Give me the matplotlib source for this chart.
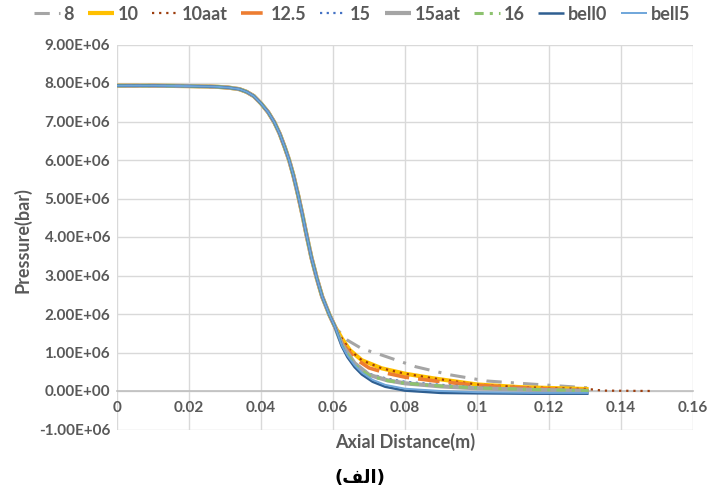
import matplotlib
matplotlib.use("Agg")
import matplotlib.pyplot as plt
import numpy as np

# Shared upstream profile (m, 1e6 Pa)
x_up = [0, 0.01, 0.02, 0.025, 0.028, 0.031, 0.034, 0.036, 0.038, 0.04, 0.042, 0.0437, 0.0452,
        0.0466, 0.0478, 0.049, 0.0504, 0.0515, 0.0525, 0.054, 0.0555, 0.057, 0.059, 0.0605]
p_up = [7.93, 7.93, 7.92, 7.91, 7.90, 7.88, 7.84, 7.77, 7.66, 7.47, 7.24, 6.98, 6.68,
        6.33, 6.00, 5.60, 5.05, 4.58, 4.12, 3.47, 2.93, 2.45, 1.98, 1.68]

# Per-series downstream tails
x_8 = [0.063, 0.064, 0.068, 0.073, 0.083, 0.0925, 0.1027, 0.112, 0.1295, 0.131]
p_8 = [1.40, 1.32, 1.10, 0.95, 0.63, 0.42, 0.26, 0.20, 0.09, 0.08]

x_10 = [0.0625, 0.0647, 0.068, 0.0735, 0.08, 0.0878, 0.1, 0.112, 0.131]
p_10 = [1.36, 1.06, 0.80, 0.59, 0.45, 0.33, 0.17, 0.10, 0.05]

x_10aat = [0.0625, 0.0647, 0.068, 0.0735, 0.08, 0.0878, 0.1, 0.112, 0.131, 0.135, 0.149]
p_10aat = [1.36, 1.06, 0.80, 0.59, 0.45, 0.33, 0.17, 0.10, 0.05, 0.01, 0.00]

x_125 = [0.0625, 0.066, 0.07, 0.075, 0.08, 0.09, 0.1, 0.115, 0.131]
p_125 = [1.25, 0.85, 0.60, 0.46, 0.36, 0.24, 0.15, 0.07, 0.01]

x_15 = [0.0625, 0.066, 0.07, 0.075, 0.08, 0.09, 0.1, 0.115, 0.131]
p_15 = [1.20, 0.70, 0.45, 0.32, 0.24, 0.16, 0.10, 0.04, 0.00]

x_15aat = [0.0625, 0.066, 0.07, 0.075, 0.08, 0.09, 0.1, 0.115, 0.131]
p_15aat = [1.20, 0.72, 0.42, 0.28, 0.20, 0.12, 0.07, 0.03, 0.00]

x_16 = [0.0625, 0.066, 0.07, 0.075, 0.08, 0.09, 0.1, 0.115, 0.131]
p_16 = [1.18, 0.68, 0.40, 0.27, 0.20, 0.13, 0.08, 0.04, 0.01]

x_bell0 = [0.0625, 0.064, 0.066, 0.068, 0.071, 0.0745, 0.08, 0.09, 0.1, 0.115, 0.131]
p_bell0 = [1.15, 0.88, 0.62, 0.43, 0.24, 0.11, 0.01, -0.05, -0.06, -0.07, -0.07]

x_bell5 = [0.0625, 0.064, 0.066, 0.068, 0.071, 0.0745, 0.08, 0.09, 0.1, 0.115, 0.131]
p_bell5 = [1.17, 0.92, 0.67, 0.48, 0.29, 0.16, 0.06, 0.00, -0.03, -0.05, -0.05]

labels = ["8", "10", "10aat", "12.5", "15", "15aat", "16", "bell0", "bell5"]
yticks = [-1e6, 0, 1e6, 2e6, 3e6, 4e6, 5e6, 6e6, 7e6, 8e6, 9e6]
yticklabels = ["-1.00E+06", "0.00E+00", "1.00E+06", "2.00E+06", "3.00E+06", "4.00E+06",
               "5.00E+06", "6.00E+06", "7.00E+06", "8.00E+06", "9.00E+06"]
xticks = [0, 0.02, 0.04, 0.06, 0.08, 0.1, 0.12, 0.14, 0.16]
xticklabels = ["0", "0.02", "0.04", "0.06", "0.08", "0.1", "0.12", "0.14", "0.16"]

series = [
    (x_8, p_8, dict(color="#A5A5A5", lw=2.2, dashes=(5, 3, 1, 3))),
    (x_10, p_10, dict(color="#FFC000", lw=3.0)),
    (x_10aat, p_10aat, dict(color="#9C3C0C", lw=1.6, dashes=(1, 2.2))),
    (x_125, p_125, dict(color="#ED7D31", lw=2.6, dashes=(6, 2.5))),
    (x_15, p_15, dict(color="#4472C4", lw=1.6, dashes=(1, 2))),
    (x_15aat, p_15aat, dict(color="#A5A5A5", lw=3.0)),
    (x_16, p_16, dict(color="#8DC26F", lw=2.2, dashes=(3, 2, 1, 2))),
    (x_bell0, p_bell0, dict(color="#2F5F91", lw=1.8)),
    (x_bell5, p_bell5, dict(color="#6FA6DA", lw=1.4)),
]

plt.rcParams['font.family'] = ['Lato', 'DejaVu Sans']
fig = plt.figure(figsize=(7.1, 4.97), dpi=100)
ax = fig.add_axes([117/710, 1-429.5/497, 576/710, 385/497])

tc = "#595959"
handles = []
for (xs, ps, st), lab in zip(series, labels):
    xa = np.array(x_up + xs)
    pa = np.array(p_up + ps) * 1e6
    ln, = ax.plot(xa, pa, label=lab, solid_capstyle="butt", solid_joinstyle="round", **st)
    handles.append(ln)

ax.set_xlim(0, 0.16)
ax.set_ylim(-1e6, 9e6)
ax.set_yticks(yticks)
ax.set_yticklabels(yticklabels)
ax.set_xticks(xticks)
ax.set_xticklabels(xticklabels)
ax.grid(True, color="#D9D9D9", lw=1.0)
ax.set_axisbelow(True)
for s in ["top", "right", "left"]:
    ax.spines[s].set_visible(False)
ax.spines["bottom"].set_position(("data", 0))
ax.spines["bottom"].set_color("#BFBFBF")
ax.spines["bottom"].set_linewidth(1.2)
ax.spines["bottom"].set_zorder(1)
ax.tick_params(axis="both", length=0, labelsize=11, labelcolor=tc)
ax.tick_params(axis="x", pad=7)
ax.tick_params(axis="y", pad=5)
for t in ax.get_xticklabels() + ax.get_yticklabels():
    t.set_fontweight("bold")

fig.text(22/710, 1-240/497, "Pressure(bar)", rotation=90, ha="center", va="center",
         fontsize=13, fontweight="bold", color=tc)
fig.text(405/710, 1-442/497, "Axial Distance(m)", ha="center", va="center",
         fontsize=13, fontweight="bold", color=tc)
fig.text(360/710, 1-478/497, "(\uFED2\uFEDF\uFE8D)", ha="center", va="center",
         fontsize=13, fontweight="bold", color="black", family=["DejaVu Sans"])

leg = fig.legend(handles=handles, labels=labels, loc="center", bbox_to_anchor=(362/710, 1-14/497),
                 ncol=9, frameon=False, handlelength=1.45, handletextpad=0.2, columnspacing=0.75,
                 prop=dict(weight="bold", size=13))
for t in leg.get_texts():
    t.set_color(tc)

fig.savefig("out.png", dpi=100)
